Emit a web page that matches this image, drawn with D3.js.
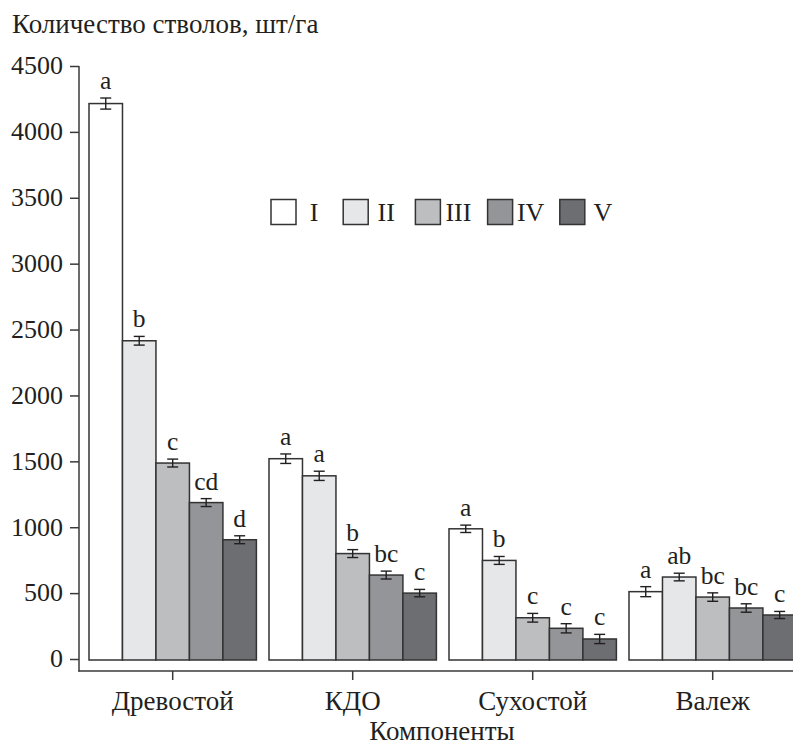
<!DOCTYPE html>
<html>
<head>
<meta charset="utf-8">
<script src="https://cdn.jsdelivr.net/npm/d3@7/dist/d3.min.js"></script>
<style>
  html, body { margin: 0; padding: 0; background: #fff; }
  svg { display: block; }
  svg text { font-family: "Liberation Serif", "Times New Roman", Tinos, "Noto Serif", "DejaVu Serif", serif !important; fill: #231f20; }
</style>
</head>
<body>
<svg id="chart" width="793" height="747"></svg>
<script>
// Components (x-axis groups) and classes I–V
const categories = ["Древостой", "КДО", "Сухостой", "Валеж"];
const classes = ["I", "II", "III", "IV", "V"];

// Number of stems per hectare, one array per component (classes I..V)
const drevostoy = [4215, 2415, 1487, 1187, 905];
const kdo       = [1520, 1390, 800, 637, 500];
const sukhostoy = [988, 748, 313, 233, 152];
const valezh    = [511, 622, 470, 387, 334];

// Error bar half-widths (±)
const drevostoyErr = [42, 33, 30, 30, 30];
const kdoErr       = [36, 35, 30, 30, 28];
const sukhostoyErr = [28, 30, 33, 35, 35];
const valezhErr    = [38, 29, 32, 32, 27];

// Significance letters
const drevostoyLetters = ["a", "b", "c", "cd", "d"];
const kdoLetters       = ["a", "a", "b", "bc", "c"];
const sukhostoyLetters = ["a", "b", "c", "c", "c"];
const valezhLetters    = ["a", "ab", "bc", "bc", "c"];

const yTicks = [0, 500, 1000, 1500, 2000, 2500, 3000, 3500, 4000, 4500];

const fills = ["#ffffff", "#e6e7e8", "#bcbec0", "#939598", "#6d6e71"];

const values = [drevostoy, kdo, sukhostoy, valezh];
const errors = [drevostoyErr, kdoErr, sukhostoyErr, valezhErr];
const letters = [drevostoyLetters, kdoLetters, sukhostoyLetters, valezhLetters];

const rows = [];
categories.forEach((c, i) => classes.forEach((k, j) => rows.push({
  cat: c, cls: k, j: j, v: values[i][j], e: errors[i][j], lab: letters[i][j]
})));

const svg = d3.select("#chart");
const axisColor = "#3a3a3a";
const FS_TEXT = "27px";   // Cyrillic labels and titles
const FS_NUM = "26px";    // tick numbers and legend
const FS_SIG = "25.5px";  // significance letters

const y = d3.scaleLinear().domain([0, 4500]).range([659, 66]);
const x = d3.scaleBand().domain(categories).range([82.7, 802.7])
  .paddingInner(0.07).paddingOuter(0.035);
const xs = d3.scaleBand().domain(classes).range([0, x.bandwidth()]);

// y axis
const yAxis = svg.append("g").attr("transform", "translate(79,0)")
  .call(d3.axisLeft(y).tickValues(yTicks).tickSize(9).tickPadding(7).tickFormat(d3.format("d")));
yAxis.attr("font-family", null).attr("font-size", null);
yAxis.select(".domain").remove();
yAxis.selectAll(".tick line").attr("stroke", axisColor).attr("stroke-width", 1.5);
yAxis.selectAll(".tick text").style("font-size", FS_NUM).attr("fill", "#231f20").attr("dy", "0.3em");
svg.append("line").attr("x1", 79).attr("x2", 79).attr("y1", 66).attr("y2", 671.5)
  .attr("stroke", axisColor).attr("stroke-width", 1.5);

// x axis (offset below the zero line)
const xAxis = svg.append("g").attr("transform", "translate(0,671)")
  .call(d3.axisBottom(x).tickSize(9).tickPadding(11));
xAxis.attr("font-family", null).attr("font-size", null);
xAxis.select(".domain").remove();
xAxis.selectAll(".tick line").attr("stroke", axisColor).attr("stroke-width", 1.5);
xAxis.selectAll(".tick text").style("font-size", FS_TEXT).attr("fill", "#231f20");
svg.append("line").attr("x1", 78.25).attr("x2", 793).attr("y1", 671).attr("y2", 671)
  .attr("stroke", axisColor).attr("stroke-width", 1.5);

// bars
const g = svg.append("g");
const bx = d => x(d.cat) + xs(d.cls);
g.selectAll("rect.bar").data(rows).join("rect").attr("class", "bar")
  .attr("x", d => bx(d)).attr("width", xs.bandwidth())
  .attr("y", d => y(d.v)).attr("height", d => y(0) - y(d.v) + 1)
  .attr("fill", d => fills[d.j]).attr("stroke", "#333").attr("stroke-width", 1.5);

// error bars
const cap = 5.5;
const eb = g.selectAll("g.err").data(rows).join("g").attr("class", "err")
  .attr("stroke", "#231f20").attr("stroke-width", 1.4);
eb.append("line").attr("x1", d => bx(d) + xs.bandwidth() / 2).attr("x2", d => bx(d) + xs.bandwidth() / 2)
  .attr("y1", d => y(d.v + d.e)).attr("y2", d => y(d.v - d.e));
eb.append("line").attr("x1", d => bx(d) + xs.bandwidth() / 2 - cap).attr("x2", d => bx(d) + xs.bandwidth() / 2 + cap)
  .attr("y1", d => y(d.v + d.e)).attr("y2", d => y(d.v + d.e));
eb.append("line").attr("x1", d => bx(d) + xs.bandwidth() / 2 - cap).attr("x2", d => bx(d) + xs.bandwidth() / 2 + cap)
  .attr("y1", d => y(d.v - d.e)).attr("y2", d => y(d.v - d.e));

// significance letters
g.selectAll("text.sig").data(rows).join("text").attr("class", "sig")
  .attr("x", d => bx(d) + xs.bandwidth() / 2).attr("y", d => y(d.v + d.e) - 9)
  .attr("text-anchor", "middle").style("font-size", FS_SIG).text(d => d.lab);

// legend
const legend = svg.append("g").attr("transform", "translate(271,199.5)");
const lg = legend.selectAll("g").data(classes).join("g")
  .attr("transform", (d, i) => `translate(${i * 72.2},0)`);
lg.append("rect").attr("width", 25).attr("height", 25)
  .attr("fill", (d, i) => fills[i]).attr("stroke", "#333").attr("stroke-width", 1.5);
lg.append("text").attr("x", 43).attr("y", 21.5).attr("text-anchor", "middle")
  .style("font-size", FS_NUM).text(d => d);

// titles
svg.append("text").attr("x", 12).attr("y", 33).style("font-size", FS_TEXT)
  .text("Количество стволов, шт/га");
svg.append("text").attr("x", 442).attr("y", 740).attr("text-anchor", "middle")
  .style("font-size", FS_TEXT).text("Компоненты");
</script>
</body>
</html>
